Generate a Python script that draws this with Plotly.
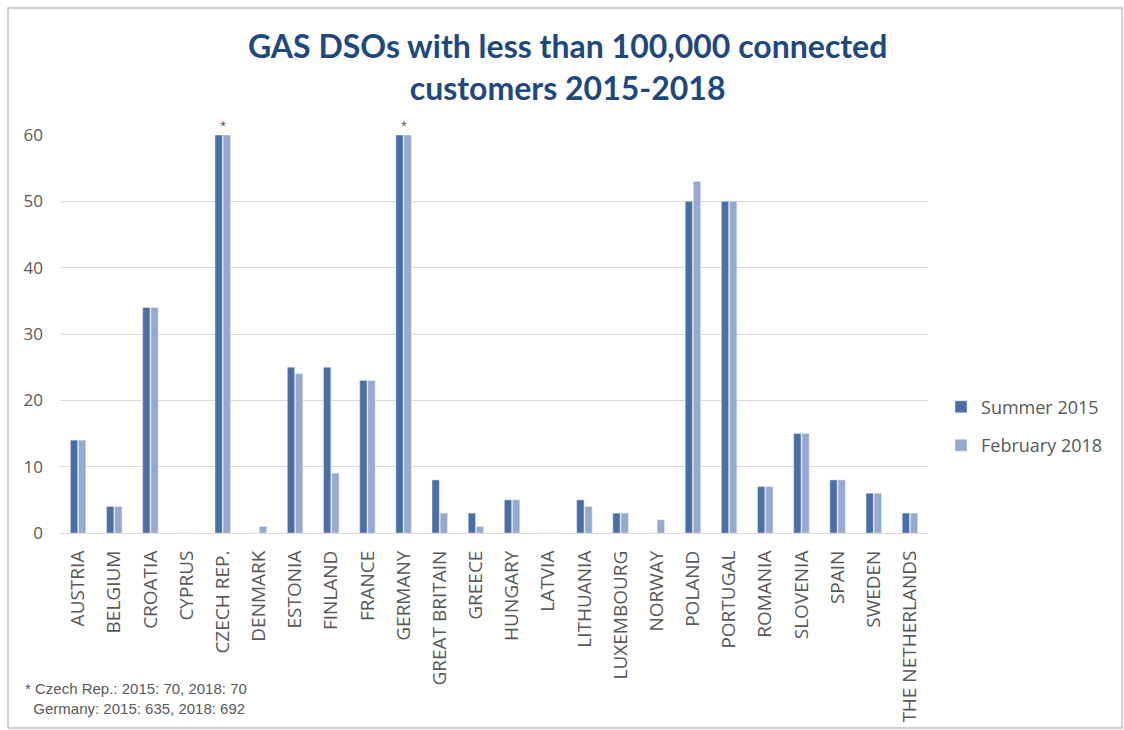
import plotly.graph_objects as go

# Number of gas DSOs with fewer than 100,000 connected customers
countries = ["AUSTRIA", "BELGIUM", "CROATIA", "CYPRUS", "CZECH REP.", "DENMARK",
             "ESTONIA", "FINLAND", "FRANCE", "GERMANY", "GREAT BRITAIN", "GREECE",
             "HUNGARY", "LATVIA", "LITHUANIA", "LUXEMBOURG", "NORWAY", "POLAND",
             "PORTUGAL", "ROMANIA", "SLOVENIA", "SPAIN", "SWEDEN", "THE NETHERLANDS"]
summer_2015 = [14, 4, 34, 0, 60, 0, 25, 25, 23, 60, 8, 3, 5, 0, 5, 3, 0, 50, 50, 7, 15, 8, 6, 3]
february_2018 = [14, 4, 34, 0, 60, 1, 24, 9, 23, 60, 3, 1, 5, 0, 4, 3, 2, 53, 50, 7, 15, 8, 6, 3]
capped = ["CZECH REP.", "GERMANY"]

DARK = "#4a6fa5"
LIGHT = "#96a9cf"
GREY = "#595959"

fig = go.Figure()
fig.add_trace(go.Bar(x=countries, y=summer_2015, name="Summer 2015",
                     marker_color=DARK, legendgroup="a"))
fig.add_trace(go.Bar(x=countries, y=february_2018, name="February 2018",
                     marker_color=LIGHT, legendgroup="b"))

# asterisks above the capped bars
for c in capped:
    fig.add_annotation(x=c, y=60, yref="y", text="*", showarrow=False,
                       yanchor="bottom", yshift=-1,
                       font=dict(family="Arial", size=15, color=GREY))

# footnote
fig.add_annotation(xref="paper", yref="paper", x=-0.043, y=-0.415,
                   xanchor="left", yanchor="middle", align="left", showarrow=False,
                   text="* Czech Rep.: 2015: 70, 2018: 70<br>&nbsp;&nbsp;Germany: 2015: 635, 2018: 692",
                   font=dict(family="Liberation Sans, Arial", size=15, color=GREY))

# outer frame
fig.add_shape(type="rect", xref="paper", yref="paper",
              x0=-0.0599, x1=1.2235, y0=-0.49, y1=1.319,
              line=dict(color="#b8c4cf", width=1.5), fillcolor="rgba(0,0,0,0)")

fig.update_layout(
    width=1124, height=730,
    margin=dict(l=60, r=196, t=135, b=197, autoexpand=False),
    paper_bgcolor="white", plot_bgcolor="white",
    barmode="group", bargap=0.55, bargroupgap=0.1,
    title=dict(text="<b>GAS DSOs with less than 100,000 connected<br>customers 2015-2018</b>",
               x=0.505, xref="container", xanchor="center",
               y=0.92, yref="container", yanchor="middle",
               font=dict(family="Lato, sans-serif", size=32, color="#1f497d")),
    legend=dict(x=1.015, y=0.2685, xanchor="left", yanchor="middle",
                font=dict(family="Open Sans, sans-serif", size=18, color=GREY),
                traceorder="grouped", tracegroupgap=12, itemwidth=30),
    showlegend=True,
)
fig.update_xaxes(tickangle=-90, showgrid=False, showline=True, linecolor="#d9d9d9",
                 ticks="", ticklabelstandoff=9, automargin=False,
                 tickfont=dict(family="Open Sans, sans-serif", size=19, color=GREY))
fig.update_yaxes(range=[0, 60], dtick=10, showgrid=True, gridcolor="#d9d9d9",
                 zeroline=False, showline=False, ticks="", ticklabelstandoff=16,
                 automargin=False,
                 tickfont=dict(family="Open Sans, sans-serif", size=17, color=GREY))

fig.write_html("out.html")
